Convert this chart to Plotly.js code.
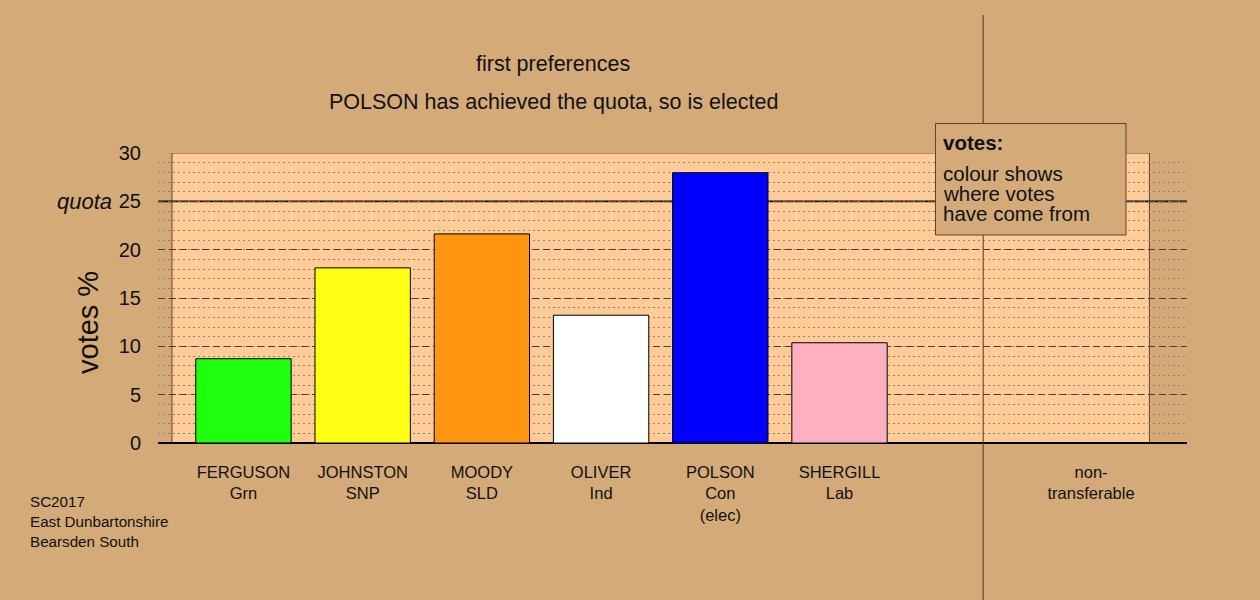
<!DOCTYPE html>
<html>
<head>
<meta charset="utf-8">
<script src="https://cdn.plot.ly/plotly-3.0.1.min.js"></script>
<style>html,body{margin:0;padding:0;background:#D4AA78;}</style>
</head>
<body>
<div id="chart" style="width:1260px;height:600px;"></div>
<script>
// ---- data ----
const candidates = ["FERGUSON", "JOHNSTON", "MOODY", "OLIVER", "POLSON", "SHERGILL"];
const parties = ["Grn", "SNP", "SLD", "Ind", "Con<br>(elec)", "Lab"];
const votesPct = [8.72, 18.12, 21.63, 13.22, 27.96, 10.37];
const barColours = ["#1EFF10", "#FFFF14", "#FF9410", "#FFFFFF", "#0000FF", "#FFB0C0"];
const nonTransferableLabel = "non-<br>transferable";
const quota = 25;
const yTicks = [0, 5, 10, 15, 20, 25, 30];
const titleLines = ["first preferences", "POLSON has achieved the quota, so is elected"];
const sourceLines = ["SC2017", "East Dunbartonshire", "Bearsden South"];
const legendTitle = "votes:";
const legendLines = ["colour shows", "where votes", "have come from"];

// ---- positions ----
const xPos = candidates.map((_, i) => i);
const ntPos = 7.11;
const tickVals = xPos.concat([ntPos]);
const tickText = candidates.map((c, i) => c + "<br>" + parties[i]).concat([nonTransferableLabel]);

const W = 1260, H = 600;
const L = 158, R = 1187, T = 153, B = 443;
const xRange = [-0.717, 7.915];
const px = x => (x - L) / (R - L);
const py = y => (B - y) / (B - T);

const font = "Liberation Sans, Arial, Helvetica, sans-serif";
const tan = "#D4AA78";

const trace = {
  type: "bar",
  x: xPos,
  y: votesPct,
  width: 0.8,
  marker: {color: barColours, line: {color: "#000000", width: 1}},
  hoverinfo: "skip"
};

const annotations = [];
titleLines.forEach((t, i) => annotations.push({
  xref: "paper", yref: "paper", x: px(553), y: py(i === 0 ? 64 : 102),
  text: t, showarrow: false, xanchor: "center", yanchor: "middle",
  font: {family: font, size: 21.5, color: "#111"}
}));
sourceLines.forEach((t, i) => annotations.push({
  xref: "paper", yref: "paper", x: px(28), y: py(501 + 20 * i),
  text: t, showarrow: false, xanchor: "left", yanchor: "middle",
  font: {family: font, size: 15.2, color: "#111"}
}));
annotations.push({
  xref: "paper", yref: "y", x: px(114), y: quota,
  text: "<i>quota</i>", showarrow: false, xanchor: "right", yanchor: "middle",
  font: {family: font, size: 22, color: "#111"}
});
annotations.push({
  xref: "paper", yref: "paper", x: px(88), y: py(323),
  text: "votes %", textangle: -90, showarrow: false, xanchor: "center", yanchor: "middle",
  font: {family: font, size: 29, color: "#111"}
});
annotations.push({
  xref: "paper", yref: "paper", x: px(941), y: py(142),
  text: "<b>" + legendTitle + "</b>", showarrow: false, xanchor: "left", yanchor: "middle",
  width: 176, align: "left",
  font: {family: font, size: 20.5, color: "#111"}
});
legendLines.forEach((t, i) => annotations.push({
  xref: "paper", yref: "paper", x: px(941), y: py(173 + 20 * i),
  text: t, showarrow: false, xanchor: "left", yanchor: "middle",
  width: 176, height: 20, align: "left", valign: "middle",
  font: {family: font, size: 20.5, color: "#111"}
}));

const shapes = [
  {type: "rect", layer: "below", xref: "x", yref: "y", x0: -0.6, x1: 7.6, y0: 0, y1: 30,
   fillcolor: "#FFCC99", line: {color: "#5a4630", width: 1}},
  {type: "line", layer: "below", xref: "x", yref: "y", x0: xRange[0], x1: xRange[1], y0: quota, y1: quota,
   line: {color: "#000", width: 1.6}},
  {type: "line", layer: "above", xref: "x", yref: "paper", x0: 6.205, x1: 6.205, y0: py(600), y1: py(15),
   line: {color: "#4a3a2a", width: 1}},
  {type: "rect", layer: "above", xref: "paper", yref: "paper", x0: px(935.5), x1: px(1126), y0: py(235), y1: py(123.5),
   fillcolor: tan, line: {color: "#5a4630", width: 1}}
];

const layout = {
  width: W, height: H,
  paper_bgcolor: tan, plot_bgcolor: tan,
  margin: {l: L, r: W - R, t: T, b: H - B, pad: 0},
  showlegend: false,
  bargap: 0.2,
  xaxis: {
    range: xRange, fixedrange: true,
    tickvals: tickVals, ticktext: tickText,
    ticks: "outside", ticklen: 14, tickcolor: "rgba(0,0,0,0)",
    tickfont: {family: font, size: 16.5, color: "#111"},
    showgrid: false, zeroline: false, showline: false
  },
  yaxis: {
    range: [0, 30], fixedrange: true,
    tickvals: yTicks,
    ticks: "outside", ticklen: 12, tickcolor: "rgba(0,0,0,0)",
    tickfont: {family: font, size: 20, color: "#111"},
    showgrid: true, gridcolor: "#4f3f30", gridwidth: 1, griddash: "7px,4px",
    minor: {dtick: 1, showgrid: true, gridcolor: "#9a8468", gridwidth: 1, griddash: "2px,3px"},
    zeroline: true, zerolinecolor: "#000", zerolinewidth: 2,
    showline: false
  },
  shapes: shapes,
  annotations: annotations
};

Plotly.newPlot("chart", [trace], layout, {staticPlot: true, displayModeBar: false});
</script>
</body>
</html>
